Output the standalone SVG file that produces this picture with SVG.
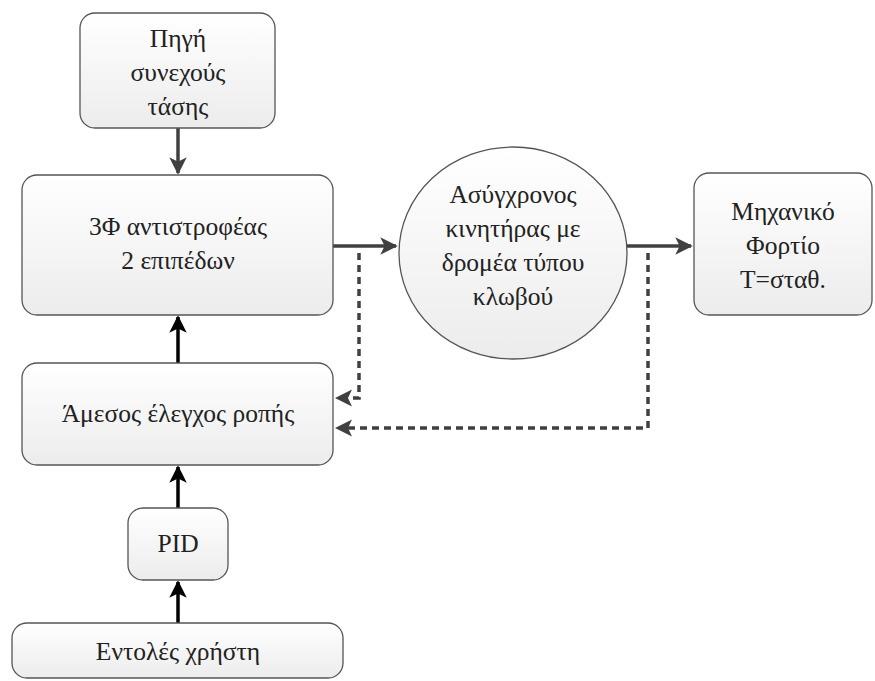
<svg xmlns="http://www.w3.org/2000/svg" width="875" height="681" viewBox="0 0 875 681">
<style>
text{font-family:"Liberation Serif",serif !important;font-size:25.5px;fill:#222;text-anchor:middle}
.box{fill:url(#g);stroke:#555;stroke-width:1.3}
.gray{stroke:#404040;stroke-width:3.5;fill:none}
.blk{stroke:#000;stroke-width:3.5;fill:none}
.dash{stroke:#404040;stroke-width:3.5;fill:none;stroke-dasharray:7,5}
.head{fill:#404040}
</style>
<defs>
<linearGradient id="g" x1="0" y1="0" x2="0" y2="1">
<stop offset="0" stop-color="#ffffff"/>
<stop offset="1" stop-color="#ececec"/>
</linearGradient>
<marker id="ag" viewBox="0 0 10 10" refX="9" refY="5" markerWidth="5" markerHeight="5" markerUnits="strokeWidth" orient="auto">
<path d="M0,0 L10,5 L0,10 L2.5,5 z" fill="#404040"/>
</marker>
<marker id="ab" viewBox="0 0 10 10" refX="9" refY="5" markerWidth="5" markerHeight="5" markerUnits="strokeWidth" orient="auto">
<path d="M0,0 L10,5 L0,10 L2.5,5 z" fill="#000"/>
</marker>
</defs>
<rect width="875" height="681" fill="#fff"/>
<g id="connectors">
<line class="gray" x1="178" y1="128" x2="178" y2="173" marker-end="url(#ag)"/>
<line class="gray" x1="333" y1="246" x2="396" y2="246" marker-end="url(#ag)"/>
<line class="gray" x1="627" y1="246" x2="691" y2="246" marker-end="url(#ag)"/>
<polyline class="dash" points="359,253 359,398 346,398"/>
<path class="head" d="M335,398 L352,389.5 L348,398 L352,406.5 z"/>
<polyline class="dash" points="648,253 648,428 346,428"/>
<path class="head" d="M335,428 L352,419.5 L348,428 L352,436.5 z"/>
<line class="blk" x1="178" y1="363" x2="178" y2="317" marker-end="url(#ab)"/>
<line class="blk" x1="178" y1="508" x2="178" y2="467" marker-end="url(#ab)"/>
<line class="blk" x1="178" y1="623" x2="178" y2="582" marker-end="url(#ab)"/>
</g>
<g id="source">
<rect class="box" x="80" y="13" width="195" height="115" rx="15"/>
<text x="178" y="47" font-family="Liberation Serif">Πηγή</text>
<text x="178" y="81" font-family="Liberation Serif">συνεχούς</text>
<text x="178" y="115" font-family="Liberation Serif">τάσης</text>
</g>
<g id="inverter">
<rect class="box" x="22" y="175" width="311" height="140" rx="15"/>
<text x="178" y="235" font-family="Liberation Serif">3Φ αντιστροφέας</text>
<text x="178" y="269" font-family="Liberation Serif">2 επιπέδων</text>
</g>
<g id="motor">
<ellipse class="box" cx="513" cy="253" rx="114" ry="106"/>
<text x="513" y="203" font-family="Liberation Serif">Ασύγχρονος</text>
<text x="513" y="237" font-family="Liberation Serif">κινητήρας με</text>
<text x="513" y="271" font-family="Liberation Serif">δρομέα τύπου</text>
<text x="513" y="305" font-family="Liberation Serif">κλωβού</text>
</g>
<g id="load">
<rect class="box" x="694" y="173" width="178" height="142" rx="15"/>
<text x="783" y="220" font-family="Liberation Serif">Μηχανικό</text>
<text x="783" y="254" font-family="Liberation Serif">Φορτίο</text>
<text x="783" y="288" font-family="Liberation Serif">Τ=σταθ.</text>
</g>
<g id="dtc">
<rect class="box" x="22" y="363" width="311" height="102" rx="15"/>
<text x="178" y="422" font-family="Liberation Serif">Άμεσος έλεγχος ροπής</text>
</g>
<g id="pid">
<rect class="box" x="128" y="508" width="100" height="72" rx="15"/>
<text x="178" y="552" font-family="Liberation Serif">PID</text>
</g>
<g id="user">
<rect class="box" x="12" y="623" width="331" height="55" rx="15"/>
<text x="178" y="660" font-family="Liberation Serif">Εντολές χρήστη</text>
</g>
</svg>
